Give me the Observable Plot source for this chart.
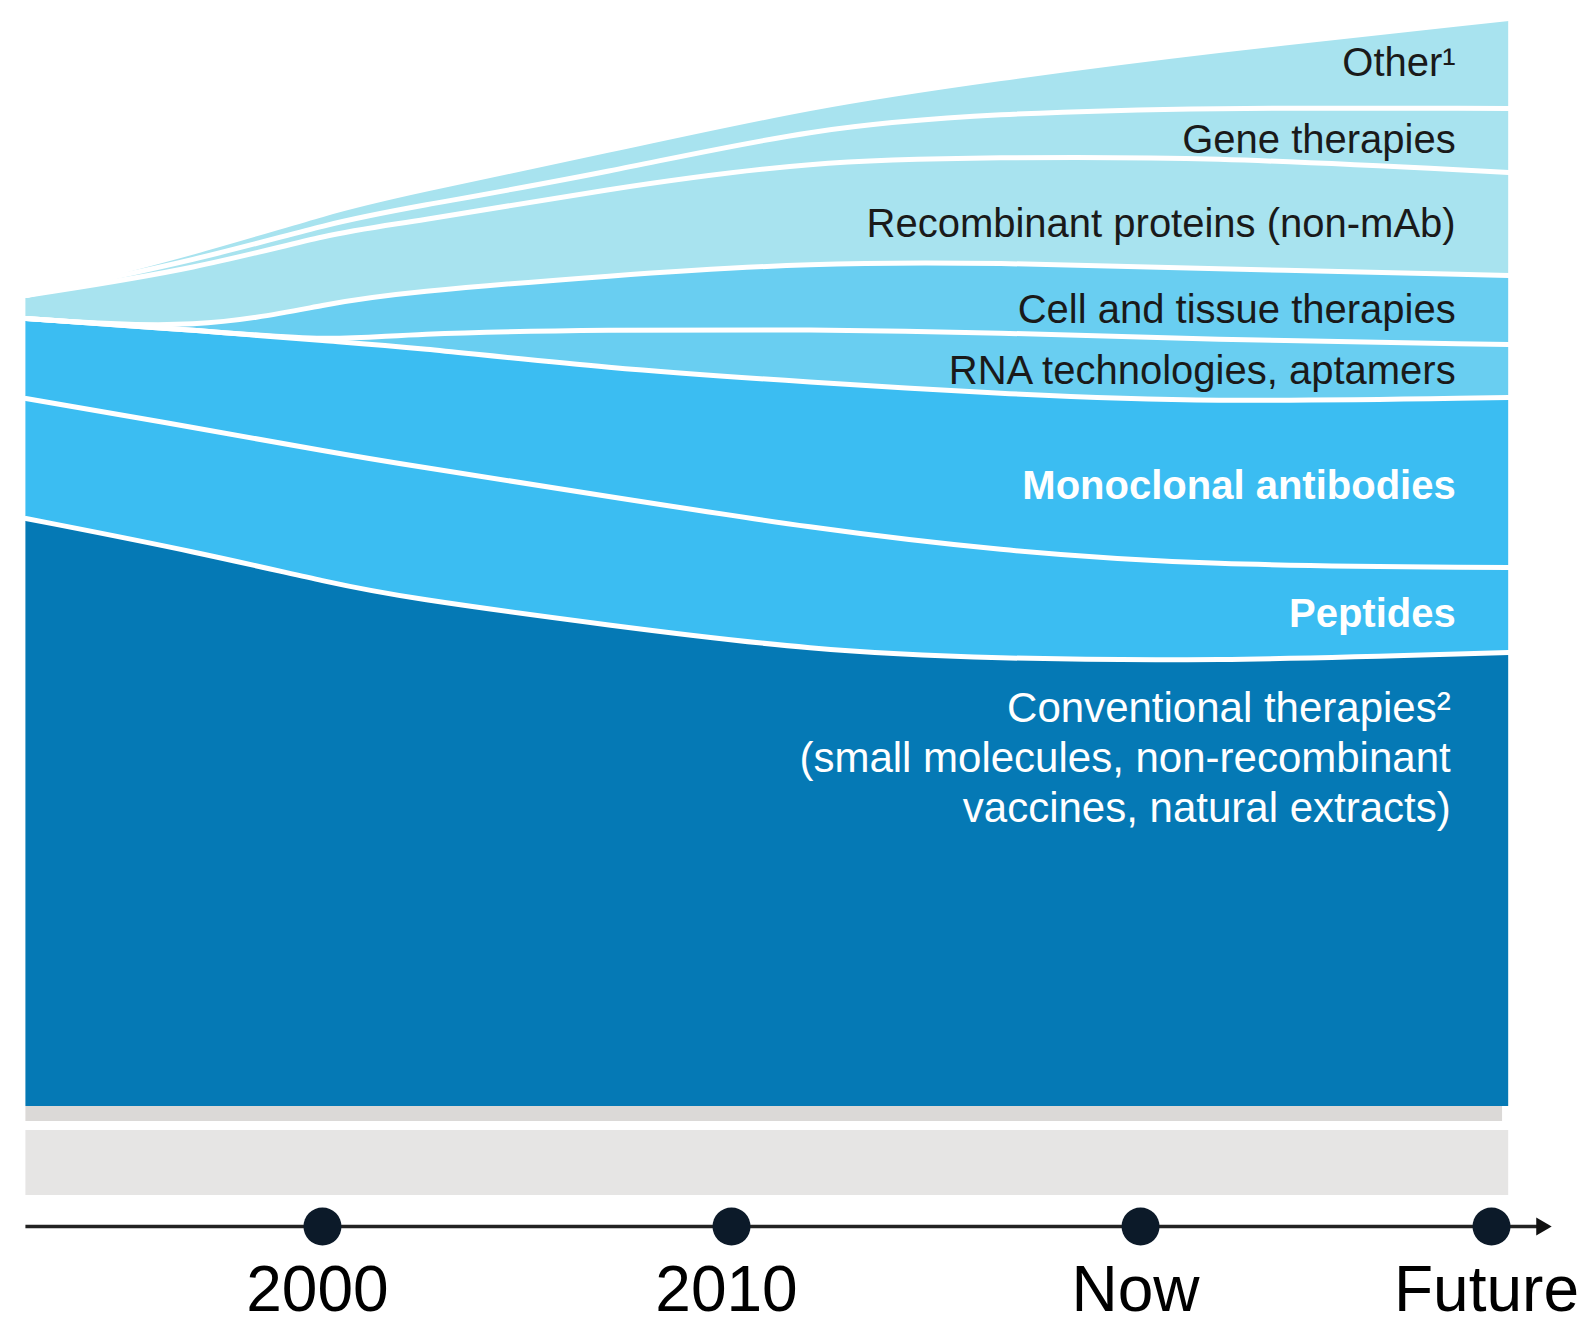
<!DOCTYPE html>
<html>
<head>
<meta charset="utf-8">
<script src="https://cdn.jsdelivr.net/npm/d3@7"></script>
<script src="https://cdn.jsdelivr.net/npm/@observablehq/plot@0.6"></script>
<style>
  html, body { margin: 0; padding: 0; background: #ffffff; overflow: hidden; }
  #chart svg { display: block; }
</style>
</head>
<body>
<div id="chart"></div>
<script>
// ---- Data (relative share) ----
const years = [1992.75, 1997, 2000.25, 2002, 2007, 2012, 2016.5, 2021.5, 2029];

const seriesNames = [
  "Conventional",
  "Peptides",
  "Monoclonal antibodies",
  "RNA technologies, aptamers",
  "Cell and tissue therapies",
  "Recombinant proteins (non-mAb)",
  "Gene therapies",
  "Other"
];

const conventional = [588, 554, 523, 509, 481, 456, 448, 445, 454];
const peptides     = [120, 124, 131, 133, 129, 122, 108,  96,  85];
const antibodies   = [ 80,  98, 111, 118, 128, 146, 157, 163, 170];
const rna          = [  0,   0,   0,  13,  39,  53,  61,  63,  53];
const cellTissue   = [  0,   0,  39,  41,  54,  67,  70,  71,  69];
const recombinant  = [ 23,  62,  70,  69,  87, 102, 105, 112, 103];
const gene         = [  0,   9,  10,  15,  16,  33,  44,  49,  64];
const other        = [  0,   8,  12,  15,  22,  22,  35,  56,  90];

const seriesValues = [conventional, peptides, antibodies, rna, cellTissue, recombinant, gene, other];

const seriesLabels = [
  "Conventional therapies²\n(small molecules, non-recombinant\nvaccines, natural extracts)",
  "Peptides",
  "Monoclonal antibodies",
  "RNA technologies, aptamers",
  "Cell and tissue therapies",
  "Recombinant proteins (non-mAb)",
  "Gene therapies",
  "Other¹"
];

const seriesColors = ["#0579b5", "#3bbdf2", "#3bbdf2", "#69cef1", "#69cef1", "#a8e3ef", "#a8e3ef", "#a8e3ef"];

// timeline
const tickYears  = [2000, 2010, 2020, 2028.58];
const tickLabels = ["2000", "2010", "Now", "Future"];
const axisStart = 1992.75;
const axisEnd = 2029.8;
const timelineLevel = -120;

// grey base strips below the chart
const baseBandTop    = [0, -24];
const baseBandBottom = [-15, -89];
const baseBandColors = ["#dbd9d7", "#e6e5e4"];

// ---- Build table ----
const rows = [];
years.forEach((yr, i) => {
  seriesNames.forEach((s, j) => {
    rows.push({year: yr, series: s, value: seriesValues[j][i], label: seriesLabels[j]});
  });
});
const lastYear = years[years.length - 1];
const lastRows = rows.filter(d => d.year === lastYear);

const darkSet = new Set(["RNA technologies, aptamers", "Cell and tissue therapies", "Recombinant proteins (non-mAb)", "Gene therapies", "Other"]);
const boldSet = new Set(["Peptides", "Monoclonal antibodies"]);

const FONT = "'Liberation Sans', Arial, Helvetica, sans-serif";
const curve = "basis";

const plot = Plot.plot({
  width: 1577,
  height: 1323,
  marginTop: 0, marginBottom: 0, marginLeft: 0, marginRight: 0,
  x: {domain: [1992.74, 2030.12], range: [25, 1554], axis: null},
  y: {domain: [-217, 1106], range: [1323, 0], axis: null},
  color: {domain: seriesNames, range: seriesColors, type: "ordinal"},
  style: {background: "#ffffff", fontFamily: FONT, overflow: "visible"},
  marks: [
    // grey base strips
    Plot.rect([0], {x1: years[0], x2: lastYear - 0.15, y1: baseBandBottom[0], y2: baseBandTop[0], fill: baseBandColors[0]}),
    Plot.rect([0], {x1: years[0], x2: lastYear, y1: baseBandBottom[1], y2: baseBandTop[1], fill: baseBandColors[1]}),
    // stacked areas
    Plot.areaY(rows, {x: "year", y: "value", z: "series", fill: "series", curve}),
    // white separators (top of each band)
    Plot.lineY(rows, Plot.stackY2({x: "year", y: "value", z: "series", stroke: "#ffffff", strokeWidth: 5, curve})),
    // labels: dark text
    Plot.text(lastRows, Plot.stackY({x: "year", y: "value", z: "series",
      text: d => darkSet.has(d.series) ? d.label : null,
      textAnchor: "end", dx: -53, fontSize: 40, fill: "#1a1a1a", fontFamily: FONT})),
    // labels: bold white
    Plot.text(lastRows, Plot.stackY({x: "year", y: "value", z: "series",
      text: d => boldSet.has(d.series) ? d.label : null,
      textAnchor: "end", dx: -53, dy: 4, fontSize: 40, fontWeight: "bold", fill: "#ffffff", fontFamily: FONT})),
    // conventional label
    Plot.text(lastRows, Plot.stackY2({x: "year", y: "value", z: "series",
      text: d => d.series === "Conventional" ? d.label : null,
      textAnchor: "end", lineAnchor: "top", dx: -58, dy: 34, lineHeight: 1.19,
      fontSize: 42, fill: "#ffffff", fontFamily: FONT})),
    // timeline axis
    Plot.ruleY([timelineLevel], {x1: axisStart, x2: axisEnd, stroke: "#222222", strokeWidth: 3.5}),
    Plot.dot([axisEnd], {x: d => d, y: timelineLevel, symbol: "triangle2", r: 8.5, rotate: 90, fill: "#111111", stroke: "none"}),
    Plot.dot(tickYears, {x: d => d, y: timelineLevel, r: 19, fill: "#0c1a29", stroke: "none"}),
    Plot.text(tickYears, {x: d => d, y: timelineLevel, text: (d, i) => tickLabels[i],
      dy: 64, dx: -5, fontSize: 64, fill: "#000000", fontFamily: FONT})
  ]
});

document.getElementById("chart").appendChild(plot);
</script>
</body>
</html>
